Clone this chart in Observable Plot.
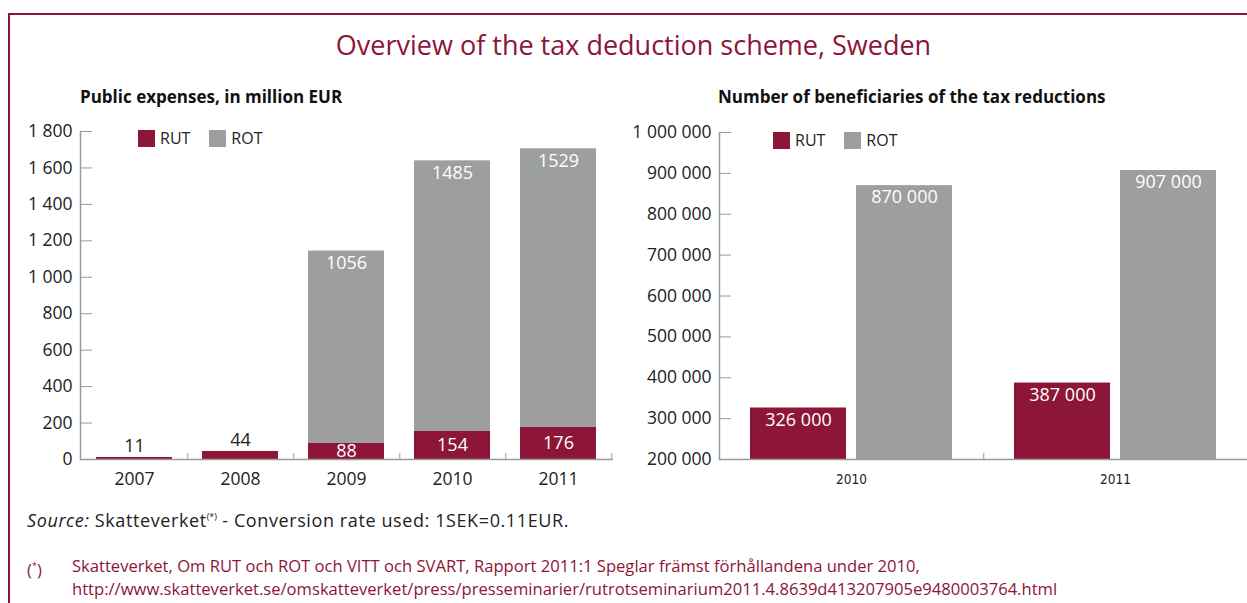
<!DOCTYPE html>
<html><head><meta charset="utf-8">
<script src="https://cdn.jsdelivr.net/npm/d3@7"></script>
<script src="https://cdn.jsdelivr.net/npm/@observablehq/plot@0.6"></script>
<style>
body{margin:0;background:#fff;font-family:"Open Sans",sans-serif;color:#222}
#wrap{position:relative;width:1247px;height:603px;overflow:hidden}
.frame{position:absolute;left:8px;top:13px;width:1300px;height:700px;border-top:2px solid #8C1538;border-left:2px solid #8C1538}
.title{position:absolute;left:0;width:1267px;text-align:center;top:26px;font-size:27px;color:#8C1538;white-space:nowrap}
.sub{position:absolute;top:85px;font-size:17px;font-weight:bold;color:#111;white-space:nowrap}
.chart{position:absolute;top:100px}
.legend{position:absolute;font-size:16px;color:#222;white-space:nowrap;line-height:20px}
.legend span.sw{display:inline-block;width:17px;height:17px;vertical-align:-3px;margin-right:5px}
.legend span.it{margin-right:19px}
.source{position:absolute;left:27px;top:508px;font-size:18px;letter-spacing:0.6px;color:#222;white-space:nowrap}
.source sup{font-size:9px;vertical-align:7px;letter-spacing:0}
.note{position:absolute;font-size:16.6px;color:#8C1538;white-space:nowrap;line-height:23px}
</style></head>
<body>
<div id="wrap">
  <div class="frame"></div>
  <div class="title">Overview of the tax deduction scheme, Sweden</div>
  <div class="sub" style="left:80px">Public expenses, in million EUR</div>
  <div class="sub" style="left:718px">Number of beneficiaries of the tax reductions</div>
  <div id="left" class="chart" style="left:0px"></div>
  <div id="right" class="chart" style="left:620px"></div>
  <div id="legL" class="legend" style="left:138px;top:128px"></div>
  <div id="legR" class="legend" style="left:773px;top:130px"></div>
  <div class="source"><i>Source:</i> Skatteverket<sup>(*)</sup> - Conversion rate used: 1SEK=0.11EUR.</div>
  <div class="note" style="left:27px;top:554px">(<sup style="font-size:9px">*</sup>)</div>
  <div class="note" style="left:72px;top:554px">Skatteverket, Om RUT och ROT och VITT och SVART, Rapport 2011:1 Speglar främst förhållandena under 2010,<br>http://www.skatteverket.se/omskatteverket/press/presseminarier/rutrotseminarium2011.4.8639d413207905e9480003764.html</div>
</div>
<script>
// ---- data ----
const years = ["2007", "2008", "2009", "2010", "2011"];
const rutExpense = [11, 44, 88, 154, 176];
const rotExpense = [null, null, 1056, 1485, 1529];
const expenseTicks = [0, 200, 400, 600, 800, 1000, 1200, 1400, 1600, 1800];

const benefYears = ["2010", "2011"];
const rutBenef = [326000, 387000];
const rotBenef = [870000, 907000];
const benefTicks = [200000, 300000, 400000, 500000, 600000, 700000, 800000, 900000, 1000000];

const series = ["RUT", "ROT"];
const colors = ["#8C1538", "#9D9E9E"];

// ---- helpers ----
const gray = "#9a9a9a";
const fmt = d3.formatLocale({decimal: ".", thousands: " ", grouping: [3], currency: ["", ""]}).format(",");
const font = "'Open Sans', sans-serif";

// legends
for (const id of ["legL", "legR"]) {
  document.getElementById(id).innerHTML = series.map((s, i) =>
    `<span class="sw" style="background:${colors[i]}"></span><span class="it">${s}</span>`).join("");
}

// ---- left chart ----
const expRows = [];
years.forEach((y, i) => {
  expRows.push({year: y, series: "RUT", value: rutExpense[i]});
  if (rotExpense[i] != null) expRows.push({year: y, series: "ROT", value: rotExpense[i], base: rutExpense[i]});
});
const rutRows = expRows.filter(d => d.series === "RUT");
const rotRows = expRows.filter(d => d.series === "ROT");

const LW = 620, LML = 80, LMR = 7;
const left = Plot.plot({
  width: LW, height: 400, marginLeft: LML, marginRight: LMR, marginTop: 31, marginBottom: 41,
  style: {fontFamily: font, fontSize: "16px", color: "#222", background: "transparent"},
  x: {domain: years, paddingInner: 0.28, paddingOuter: 0.14, label: null},
  y: {domain: [0, 1800], label: null},
  color: {domain: series, range: colors},
  marks: [
    Plot.barY(expRows, Plot.stackY({x: "year", y: "value", fill: "series", order: series})),
    Plot.text(rutRows.filter(d => d.value >= 60), {x: "year", y: d => d.value / 2, text: d => String(d.value), fill: "white", fontSize: 18}),
    Plot.text(rutRows.filter(d => d.value < 60), {x: "year", y: "value", text: d => String(d.value), fill: "#222", dy: -11, fontSize: 18}),
    Plot.text(rotRows, {x: "year", y: d => d.value + d.base, text: d => String(d.value), fill: "white", dy: 12, fontSize: 18}),
    Plot.ruleY([0], {stroke: gray, strokeWidth: 1.5}),
    Plot.frame({anchor: "left", stroke: gray, strokeWidth: 1.5}),
    Plot.axisY(expenseTicks, {tickSize: -12, tickPadding: 20, tickFormat: fmt, stroke: gray, fill: "#222", fontSize: 17.5}),
    Plot.axisX({tickSize: 0, tickPadding: 13, fontSize: 17.5, fill: "#222"}),
    Plot.axisX(years, {tickSize: -6, tickFormat: () => "", stroke: gray, dx: (LW - LML - LMR) / years.length / 2})
  ]
});
document.getElementById("left").append(left);

// ---- right chart ----
const benRows = [];
benefYears.forEach((y, i) => {
  benRows.push({year: y, series: "RUT", value: rutBenef[i]});
  benRows.push({year: y, series: "ROT", value: rotBenef[i]});
});
const yMin = benefTicks[0];
const RW = 627, RML = 98, RMR = 0;
const right = Plot.plot({
  width: RW, height: 400, marginLeft: RML, marginRight: RMR, marginTop: 32, marginBottom: 41,
  style: {fontFamily: font, fontSize: "16px", color: "#222", background: "transparent"},
  fx: {domain: benefYears, padding: 0, label: null, axis: null},
  x: {domain: series, paddingInner: 0.09, paddingOuter: 0.28, axis: null, label: null},
  y: {domain: [yMin, benefTicks[benefTicks.length - 1]], label: null},
  color: {domain: series, range: colors},
  marks: [
    Plot.barY(benRows, {fx: "year", x: "series", y1: yMin, y2: "value", fill: "series"}),
    Plot.text(benRows, {fx: "year", x: "series", y: "value", text: d => fmt(d.value), fill: "white", dy: 12, fontSize: 18}),
    Plot.ruleY([yMin], {stroke: gray, strokeWidth: 1.5}),
    Plot.frame({anchor: "left", stroke: gray, strokeWidth: 1.5, facetAnchor: "left"}),
    Plot.axisY(benefTicks, {tickSize: -12, tickPadding: 20, tickFormat: fmt, stroke: gray, fill: "#222", fontSize: 17.5}),
    Plot.axisFx({anchor: "bottom", tickSize: 0, tickPadding: 15, fontSize: 13.5, fill: "#222", fontFamily: "'DejaVu Sans Condensed', sans-serif"}),
    Plot.axisFx([benefYears[0]], {anchor: "bottom", tickSize: -6, tickFormat: () => "", stroke: gray, dx: (RW - RML - RMR) / benefYears.length / 2})
  ]
});
document.getElementById("right").append(right);
</script>
</body></html>
